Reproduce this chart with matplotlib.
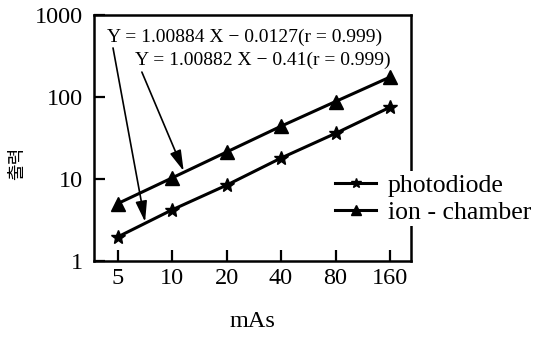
import matplotlib
matplotlib.use('Agg')
import matplotlib.pyplot as plt
from matplotlib.ticker import FixedLocator, FixedFormatter, NullLocator

mas = [5, 10, 20, 40, 80, 160]
photodiode = [1.96, 4.2, 8.4, 18, 36, 75]
ion_chamber = [5.0, 10.3, 21.3, 44, 88, 175]
x_tick_labels = ['5', '10', '20', '40', '80', '160']
y_ticks = [1, 10, 100, 1000]
y_tick_labels = ['1', '10', '100', '1000']
eq1 = 'Y = 1.00884 X \u2212 0.0127(r = 0.999)'
eq2 = 'Y = 1.00882 X \u2212 0.41(r = 0.999)'
arrow1_tip = (7.1, 3.0)
arrow2_tip = (11.6, 12.5)

serif = 'Liberation Serif'
W, H = 534, 339
fig = plt.figure(figsize=(W/100, H/100), dpi=100)
ax = fig.add_axes([94/W, 1-261/H, (411-94)/W, (261-15)/H])
ax.set_xscale('log', base=2)
ax.set_yscale('log')

ax.plot(mas, photodiode, color='black', marker='*', ms=10, lw=2.2, label='photodiode')
ax.plot(mas, ion_chamber, color='black', marker='^', ms=9.5, lw=2.2, label='ion - chamber')

ax.set_xlim(5*2**(-23.5/54.5), 160*2**(21/54.5))
ax.set_ylim(1, 1000)

ax.xaxis.set_major_locator(FixedLocator(mas))
ax.xaxis.set_major_formatter(FixedFormatter(x_tick_labels))
ax.xaxis.set_minor_locator(NullLocator())
ax.yaxis.set_major_locator(FixedLocator(y_ticks))
ax.yaxis.set_major_formatter(FixedFormatter(y_tick_labels))
ax.yaxis.set_minor_locator(NullLocator())
ax.tick_params(axis='both', direction='in', length=8, width=1.6, labelsize=17.5)
ax.tick_params(axis='x', pad=5)
ax.tick_params(axis='y', pad=8)
for lab in ax.get_xticklabels() + ax.get_yticklabels():
    lab.set_family(serif)
for sp in ax.spines.values():
    sp.set_linewidth(1.8)

ax.set_xlabel('mAs', family=serif, fontsize=17.5, labelpad=16)
fig.text(17/W, 1-163/H, '출력', family=['Noto Sans CJK KR'], fontsize=13,
         rotation=90, ha='center', va='center')

ax.text(0.041, 0.89, eq1, transform=ax.transAxes, family=serif, fontsize=14, va='baseline', ha='left')
ax.text(0.129, 0.797, eq2, transform=ax.transAxes, family=serif, fontsize=14, va='baseline', ha='left')

ap = dict(arrowstyle='-|>,head_length=0.9,head_width=0.25', color='black', lw=1.2,
          mutation_scale=14, shrinkA=0, shrinkB=0)
ax.annotate('', xy=arrow1_tip, xytext=(0.06, 0.866), textcoords='axes fraction', arrowprops=ap)
ax.annotate('', xy=arrow2_tip, xytext=(0.151, 0.768), textcoords='axes fraction', arrowprops=ap)

leg = fig.legend(loc='upper left', bbox_to_anchor=(332/W, 1-171/H), frameon=True,
                 prop={'family': serif, 'size': 18.5}, handlelength=1.63, handletextpad=0.43,
                 labelspacing=0.17, borderpad=0.1, borderaxespad=0, markerscale=0.7)
leg.get_frame().set_edgecolor('none')
leg.get_frame().set_facecolor('white')
leg.get_frame().set_alpha(1)

fig.savefig('out.png', dpi=100)
